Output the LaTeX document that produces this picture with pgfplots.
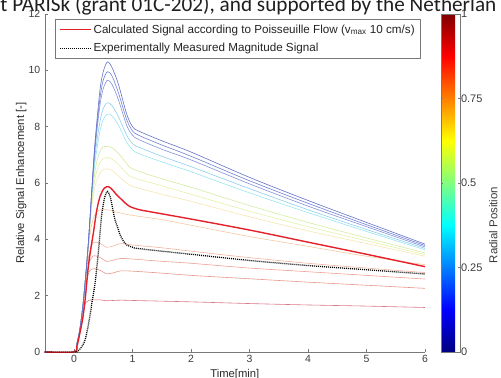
\documentclass[border=0pt]{standalone}
\usepackage{fontspec}
\setmainfont{Liberation Sans}
\newfontfamily\calibri{Carlito}
\usepackage{pgfplots}
\pgfplotsset{compat=1.18}
\definecolor{c1}{RGB}{100,112,200}
\definecolor{c2}{RGB}{115,128,210}
\definecolor{c3}{RGB}{130,145,218}
\definecolor{c4}{RGB}{140,205,240}
\definecolor{c5}{RGB}{150,228,238}
\definecolor{c6}{RGB}{210,236,160}
\definecolor{c7}{RGB}{228,240,168}
\definecolor{c8}{RGB}{244,232,176}
\definecolor{c9}{RGB}{244,200,160}
\definecolor{c10}{RGB}{240,180,160}
\definecolor{c11}{RGB}{236,160,144}
\definecolor{c12}{RGB}{232,150,136}
\definecolor{c13}{RGB}{216,120,136}
\definecolor{redthick}{RGB}{228,32,40}
\definecolor{axgray}{RGB}{120,120,120}
\definecolor{txgray}{RGB}{60,60,60}
\begin{document}
\begin{tikzpicture}
\useasboundingbox (-44.75bp,-26bp) rectangle (456.25bp,352bp);
\begin{scope}
\clip (-44.75bp,-26bp) rectangle (456.25bp,352bp);
\begin{pgfinterruptboundingbox}
\node[anchor=base west, inner sep=0pt, text=black!88] at (-44.5bp,340.3bp) {\calibri\fontsize{21.3}{23}\selectfont t PARISk (grant 01C-202), and supported by the Netherlan};
\begin{axis}[
  at={(0bp,0bp)}, anchor=south west,
  scale only axis, width=380.25bp, height=338bp,
  xmin=-0.5, xmax=6, ymin=0, ymax=12,
  axis x line*=bottom, axis y line*=left,
  axis line style={axgray},
  tick style={axgray, semithick},
  tick align=inside,
  major tick length=3bp,
  xtick={0,1,2,3,4,5,6}, ytick={0,2,4,6,8,10,12},
  /pgf/number format/assume math mode=true,
  tick label style={font=\fontsize{10.5}{12}\selectfont, text=txgray},
  yticklabel style={xshift=-1bp},
  xlabel={Time[min]}, ylabel={Relative Signal Enhancement [-]},
  label style={font=\fontsize{11.3}{13}\selectfont, text=txgray!70!black},
  xlabel style={at={(axis description cs:0.5,-0.066)}, anchor=center},
  ylabel style={at={(axis description cs:-0.062,0.5)}, anchor=center},
  legend style={at={(0.027,0.984)}, anchor=north west, draw=axgray, fill=white,
    font=\fontsize{11.7}{13.5}\selectfont, text=txgray!60!black, row sep=5bp, inner xsep=4bp, inner ysep=3bp},
  legend cell align=left,
  legend image code/.code={\draw[#1] (0bp,0bp) -- (31bp,0bp);},
  colormap/jet,
  point meta min=0, point meta max=1,
  colorbar,
  colorbar shift/.style={xshift=16bp},
  colorbar style={
    at={(parent axis.north east)}, anchor=north west,
    scale only axis, width=19bp, height=338bp,
    ytick={0,0.25,0.5,0.75,1}, yticklabels={0,0.25,0.5,0.75,1},
    axis line style={axgray}, tick style={axgray}, major tick length=2bp,
    yticklabel style={font=\fontsize{11}{13}\selectfont, text=txgray, xshift=-2.5bp},
    ylabel={Radial Position},
    ylabel style={at={(axis description cs:2.75,0.376)}, anchor=center, font=\fontsize{11.5}{13}\selectfont, text=txgray},
  },
]
\addplot[c13, line width=0.6pt, smooth, forget plot] coordinates {(-0.5,0)(0,0)(0.05,0.3)(0.1,0.8)(0.15,1.45)(0.2,1.75)(0.25,1.83)(0.3,1.85)(0.45,1.85)(0.55,1.82)(0.8,1.84)(1.0,1.83)(2,1.78)(3,1.72)(4,1.67)(5,1.63)(6,1.58)};
\addplot[c12, line width=0.6pt, smooth, forget plot] coordinates {(-0.5,0)(0,0)(0.05,0.3)(0.1,0.8)(0.15,1.6)(0.2,2.4)(0.25,2.8)(0.3,2.94)(0.35,2.96)(0.45,2.9)(0.55,2.78)(0.65,2.8)(0.8,2.88)(1.0,2.87)(1.5,2.8)(2,2.72)(3,2.6)(4,2.48)(5,2.37)(6,2.26)};
\addplot[c11, line width=0.6pt, smooth, forget plot] coordinates {(-0.5,0)(0,0)(0.05,0.3)(0.1,0.8)(0.15,1.6)(0.2,2.55)(0.25,3.1)(0.3,3.35)(0.35,3.42)(0.45,3.35)(0.55,3.22)(0.65,3.25)(0.8,3.32)(1.0,3.3)(1.5,3.22)(2,3.15)(3,2.98)(4,2.85)(5,2.72)(6,2.59)};
\addplot[c10, line width=0.6pt, smooth, forget plot] coordinates {(-0.5,0)(0,0)(0.05,0.3)(0.1,0.8)(0.15,1.6)(0.2,2.65)(0.25,3.4)(0.3,3.78)(0.35,3.9)(0.45,3.85)(0.55,3.72)(0.65,3.75)(0.8,3.85)(1.0,3.8)(1.5,3.7)(2,3.58)(3,3.35)(4,3.15)(5,2.98)(6,2.82)};
\addplot[c9, line width=0.6pt, smooth, forget plot] coordinates {(-0.5,0)(0,0)(0.05,0.3)(0.1,0.8)(0.15,1.6)(0.2,2.7)(0.25,3.8)(0.3,4.5)(0.35,4.85)(0.4,5.0)(0.47,5.05)(0.57,5.05)(0.76,4.95)(1.0,4.85)(1.5,4.7)(2,4.5)(3,4.1)(4,3.75)(5,3.4)(6,3.1)};
\addplot[c8, line width=0.6pt, smooth, forget plot] coordinates {(-0.5,0)(0,0)(0.05,0.3)(0.1,0.8)(0.15,1.6)(0.2,2.7)(0.25,3.85)(0.3,5.1)(0.35,5.8)(0.4,6.15)(0.45,6.35)(0.5,6.47)(0.57,6.5)(0.65,6.45)(0.76,6.25)(0.9,6.0)(1.0,5.88)(1.5,5.6)(2,5.35)(3,4.8)(4,4.3)(5,3.85)(6,3.4)};
\addplot[c7, line width=0.6pt, smooth, forget plot] coordinates {(-0.5,0)(0,0)(0.05,0.3)(0.1,0.8)(0.15,1.6)(0.2,2.7)(0.25,3.9)(0.3,5.2)(0.35,6.05)(0.4,6.5)(0.45,6.75)(0.5,6.87)(0.57,6.9)(0.65,6.85)(0.76,6.65)(0.9,6.35)(1.0,6.2)(1.5,5.9)(2,5.6)(3,5.0)(4,4.45)(5,3.95)(6,3.46)};
\addplot[c6, line width=0.6pt, smooth, forget plot] coordinates {(-0.5,0)(0,0)(0.05,0.3)(0.1,0.8)(0.15,1.6)(0.2,2.7)(0.25,3.95)(0.3,5.3)(0.35,6.3)(0.4,6.85)(0.45,7.15)(0.5,7.28)(0.57,7.3)(0.65,7.25)(0.76,7.05)(0.9,6.7)(1.0,6.5)(1.5,6.15)(2,5.85)(3,5.2)(4,4.6)(5,4.05)(6,3.52)};
\addplot[c5, line width=0.6pt, smooth, forget plot] coordinates {(-0.5,0)(0,0)(0.05,0.3)(0.1,0.8)(0.15,1.6)(0.2,2.7)(0.25,4.0)(0.3,5.45)(0.35,6.6)(0.4,7.3)(0.45,7.9)(0.5,8.25)(0.57,8.45)(0.65,8.38)(0.76,8.05)(0.9,7.45)(1.0,7.18)(1.1,7.05)(1.5,6.75)(2,6.4)(3,5.65)(4,4.95)(5,4.28)(6,3.63)};
\addplot[c4, line width=0.6pt, smooth, forget plot] coordinates {(-0.5,0)(0,0)(0.05,0.3)(0.1,0.8)(0.15,1.6)(0.2,2.7)(0.25,4.0)(0.3,5.5)(0.35,6.8)(0.4,7.6)(0.45,8.25)(0.5,8.65)(0.57,8.85)(0.65,8.75)(0.76,8.35)(0.9,7.7)(1.0,7.4)(1.1,7.28)(1.5,6.95)(2,6.58)(3,5.8)(4,5.05)(5,4.35)(6,3.68)};
\addplot[c3, line width=0.6pt, smooth, forget plot] coordinates {(-0.5,0)(0,0)(0.05,0.3)(0.1,0.8)(0.15,1.6)(0.2,2.7)(0.25,4.0)(0.3,5.6)(0.35,7.0)(0.4,8.0)(0.45,8.85)(0.5,9.35)(0.57,9.65)(0.65,9.5)(0.76,8.95)(0.9,8.05)(1.0,7.7)(1.1,7.55)(1.5,7.2)(2,6.82)(3,5.97)(4,5.18)(5,4.45)(6,3.73)};
\addplot[c2, line width=0.6pt, smooth, forget plot] coordinates {(-0.5,0)(0,0)(0.05,0.3)(0.1,0.8)(0.15,1.6)(0.2,2.7)(0.25,4.0)(0.3,5.6)(0.35,7.1)(0.4,8.2)(0.45,9.1)(0.5,9.65)(0.57,9.95)(0.65,9.8)(0.76,9.2)(0.9,8.25)(1.0,7.85)(1.1,7.7)(1.5,7.35)(2,6.95)(3,6.08)(4,5.28)(5,4.52)(6,3.78)};
\addplot[c1, line width=0.6pt, smooth, forget plot] coordinates {(-0.5,0)(0,0)(0.05,0.3)(0.1,0.8)(0.15,1.6)(0.2,2.7)(0.25,4.0)(0.3,5.6)(0.35,7.2)(0.4,8.4)(0.45,9.4)(0.5,9.95)(0.57,10.3)(0.65,10.1)(0.76,9.5)(0.9,8.45)(1.0,8.0)(1.1,7.85)(1.5,7.5)(2,7.1)(3,6.2)(4,5.38)(5,4.6)(6,3.83)};
\addplot[redthick, line width=1.4pt, smooth] coordinates {(-0.5,0)(0,0)(0.05,0.2)(0.1,0.66)(0.15,1.2)(0.19,1.85)(0.245,3.03)(0.29,3.7)(0.33,4.21)(0.39,5.04)(0.45,5.55)(0.52,5.82)(0.59,5.87)(0.66,5.75)(0.72,5.6)(0.79,5.46)(0.88,5.28)(0.96,5.16)(1.1,5.06)(1.3,4.98)(2,4.72)(3,4.33)(4,3.9)(5,3.47)(6,3.03)};
\addlegendentry{Calculated Signal according to Poisseuille Flow (v\textsubscript{max} 10 cm/s)}
\addplot[black, line width=1.3pt, dash pattern=on 1pt off 1pt, smooth] coordinates {(-0.5,0)(0,0)(0.05,0.01)(0.1,0.1)(0.15,0.25)(0.19,0.43)(0.23,0.8)(0.27,1.25)(0.31,1.8)(0.36,2.44)(0.42,3.62)(0.47,4.8)(0.52,5.45)(0.57,5.7)(0.62,5.5)(0.66,5.1)(0.7,4.7)(0.75,4.4)(0.79,4.15)(0.85,3.92)(0.9,3.8)(1.0,3.72)(1.07,3.68)(1.5,3.58)(2,3.47)(3,3.25)(4,3.07)(5,2.92)(6,2.77)};
\addlegendentry{Experimentally Measured Magnitude Signal}
\end{axis}
\end{pgfinterruptboundingbox}
\end{scope}
\end{tikzpicture}
\end{document}
